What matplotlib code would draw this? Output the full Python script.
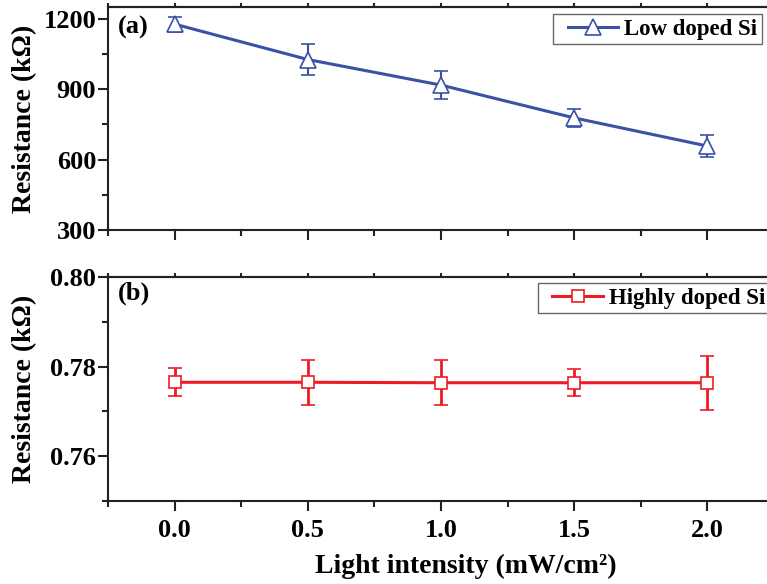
import matplotlib
matplotlib.use("Agg")
import matplotlib.pyplot as plt
from matplotlib.legend_handler import HandlerLine2D
from matplotlib.lines import Line2D
from matplotlib.ticker import MultipleLocator

# --- Data ---
intensity = [0.0, 0.5, 1.0, 1.5, 2.0]

low_res = [1178, 1027, 918, 778, 658]
low_err = [32, 65, 58, 38, 48]

high_res = [0.7765, 0.7765, 0.7764, 0.7764, 0.7764]
high_err = [0.0031, 0.0050, 0.0050, 0.0030, 0.0060]

BLUE = "#3a51a6"
RED = "#ed1c24"
INK = "#222222"

plt.rcParams["font.family"] = ["Liberation Serif", "DejaVu Serif"]
plt.rcParams["font.weight"] = "bold"

W, H = 767, 584
fig = plt.figure(figsize=(W / 100, H / 100), dpi=100)
ax_a = fig.add_axes([108 / W, 1 - 230 / H, 666 / W, 223 / H])
ax_b = fig.add_axes([108 / W, 1 - 501 / H, 666 / W, 224 / H])


class PaddedLineHandler(HandlerLine2D):
    # legend line starts a bit inside the handle box (extra left padding)
    def create_artists(self, legend, orig_handle, xdescent, ydescent,
                       width, height, fontsize, trans):
        pad = 0.165 * width
        return super().create_artists(legend, orig_handle, xdescent - pad, ydescent,
                                      width - pad, height, fontsize, trans)


def style_axes(ax):
    for side in ("left", "bottom", "top"):
        ax.spines[side].set_linewidth(1.5)
        ax.spines[side].set_color(INK)
    ax.spines["right"].set_visible(False)
    ax.tick_params(which="major", direction="out", length=7, width=1.5,
                   labelsize=19, top=False, right=False, color=INK)
    ax.tick_params(which="minor", direction="out", length=4, width=1.5,
                   top=False, right=False, color=INK)
    ax.tick_params(axis="y", pad=1.5)
    ax.set_xlim(-0.25, 2.25)
    ax.xaxis.set_major_locator(MultipleLocator(0.5))
    ax.xaxis.set_minor_locator(MultipleLocator(0.25))
    sec = ax.secondary_xaxis("top")
    sec.xaxis.set_major_locator(MultipleLocator(0.25))
    sec.tick_params(direction="out", length=3, width=1.5, labeltop=False, color=INK)
    sec.spines["top"].set_linewidth(1.5)
    sec.spines["top"].set_color(INK)
    ax.set_ylabel("Resistance (k\u03a9)", fontsize=20, fontweight="bold")
    ax.yaxis.set_label_coords(-0.106, 0.5)


def add_legend(ax, color, marker, ms, label, anchor):
    handle = Line2D([], [], color=color, lw=2.2, marker=marker, markersize=ms,
                    markerfacecolor="white", markeredgecolor=color,
                    markeredgewidth=1.2)
    leg = ax.legend([handle], [label], loc="upper right", bbox_to_anchor=anchor,
                    fontsize=16.5, frameon=True, fancybox=False, edgecolor="#444444",
                    borderaxespad=0, handlelength=2.66, handletextpad=0.26,
                    borderpad=0.2, handler_map={Line2D: PaddedLineHandler()})
    leg.get_frame().set_linewidth(1.0)
    for t in leg.get_texts():
        t.set_fontweight("bold")


# --- (a) low doped ---
ax_a.errorbar(intensity, low_res, yerr=low_err, color=BLUE, lw=2.2,
              marker="^", markersize=12, markerfacecolor="white",
              markeredgecolor=BLUE, markeredgewidth=1.2,
              elinewidth=1.5, capsize=5, capthick=1.5)
style_axes(ax_a)
ax_a.set_ylim(300, 1251)
ax_a.yaxis.set_major_locator(MultipleLocator(300))
ax_a.yaxis.set_minor_locator(MultipleLocator(150))
ax_a.tick_params(axis="x", labelbottom=False)
ax_a.text(10 / 666, 1 - 9 / 223, "(a)", transform=ax_a.transAxes, fontsize=19,
          fontweight="bold", va="top", ha="left")
add_legend(ax_a, BLUE, "^", 12, "Low doped Si", (654 / 666, 1 - 7 / 223))

# --- (b) highly doped ---
ax_b.errorbar(intensity, high_res, yerr=high_err, color=RED, lw=2.2,
              marker="s", markersize=9, markerfacecolor="white",
              markeredgecolor=RED, markeredgewidth=1.2,
              elinewidth=2.0, capsize=5, capthick=2.0)
style_axes(ax_b)
ax_b.set_ylim(0.75, 0.80)
ax_b.yaxis.set_major_locator(MultipleLocator(0.02))
ax_b.yaxis.set_minor_locator(MultipleLocator(0.01))
ax_b.yaxis.set_major_formatter(plt.FormatStrFormatter("%.2f"))
ax_b.set_xticks(intensity)
ax_b.set_xticklabels([f"{v:.1f}" for v in intensity])
ax_b.tick_params(axis="x", pad=6)
ax_b.text(10 / 666, 1 - 5 / 224, "(b)", transform=ax_b.transAxes, fontsize=19,
          fontweight="bold", va="top", ha="left")
add_legend(ax_b, RED, "s", 9, "Highly doped Si", (662 / 666, 1 - 6 / 224))
ax_b.set_xlabel("Light intensity (mW/cm\u00b2)", fontsize=20, fontweight="bold")
ax_b.xaxis.set_label_coords(358 / 666, -0.235)

fig.savefig("out.png", dpi=100)
